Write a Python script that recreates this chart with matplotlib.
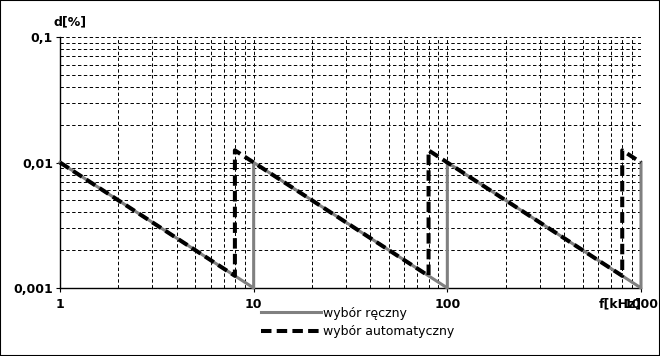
import matplotlib
matplotlib.use('Agg')
from matplotlib import pyplot as plt
from matplotlib.patches import Rectangle
from matplotlib.ticker import FixedLocator, NullFormatter, LogLocator

# wybór ręczny: zmiana zakresu co dekadę
f_manual = [1, 10, 10, 100, 100, 1000, 1000]
d_manual = [0.01, 0.001, 0.01, 0.001, 0.01, 0.001, 0.01]

# wybór automatyczny: zmiana zakresu przy 8, 80, 800 kHz
f_auto = [1, 8, 8, 80, 80, 800, 800, 1000]
d_auto = [0.01, 0.00125, 0.0125, 0.00125, 0.0125, 0.00125, 0.0125, 0.01]

x_ticks = [1, 10, 100, 1000]
x_labels = ['1', '10', '100', '1000']
y_ticks = [0.001, 0.01, 0.1]
y_labels = ['0,001', '0,01', '0,1']

fig = plt.figure(figsize=(6.6, 3.56), dpi=100)
ax = fig.add_axes([60/660, 1-288/356, 581/660, 251/356])

ax.plot(f_manual, d_manual, color='#808080', lw=2.2, label='wybór ręczny',
        clip_on=False, zorder=3)
ax.plot(f_auto, d_auto, color='black', lw=2.9, dashes=(2.6, 1.3),
        label='wybór automatyczny', clip_on=False, zorder=4)

ax.set_xscale('log')
ax.set_yscale('log')
ax.set_xlim(1, 1000)
ax.set_ylim(0.001, 0.1)

ax.xaxis.set_major_locator(FixedLocator(x_ticks))
ax.set_xticklabels(x_labels, fontweight='bold', fontsize=9)
ax.yaxis.set_major_locator(FixedLocator(y_ticks))
ax.set_yticklabels(y_labels, fontweight='bold', fontsize=9)
ax.xaxis.set_minor_locator(LogLocator(base=10, subs=range(2, 10)))
ax.yaxis.set_minor_locator(LogLocator(base=10, subs=range(2, 10)))
ax.xaxis.set_minor_formatter(NullFormatter())
ax.yaxis.set_minor_formatter(NullFormatter())
ax.tick_params(which='minor', length=0)
ax.tick_params(which='major', length=3, width=0.8, pad=2)
ax.tick_params(axis='x', which='major', pad=4)

ax.grid(True, which='both', color='black', lw=0.7, ls=(0, (3.5, 2.5)))
ax.set_axisbelow(True)
for s in ['top', 'right']:
    ax.spines[s].set_visible(False)
ax.spines['left'].set_linewidth(1)
ax.spines['bottom'].set_linewidth(1)

fig.text(54/660, 1-22/356, 'd[%]', fontweight='bold', fontsize=9, va='center')
fig.text(599/660, 1-304/356, 'f[kHz]', fontweight='bold', fontsize=9, va='center')

fig.legend(loc='upper left', bbox_to_anchor=(252/660, 1-298/356), frameon=False,
           fontsize=9, handlelength=4.8, handletextpad=0.2, labelspacing=0.45,
           borderpad=0.2)

fig.patches.append(Rectangle((0, 0), 1, 1, transform=fig.transFigure, fill=False,
                             edgecolor='black', lw=1.5))

fig.savefig('out.png', dpi=100)
